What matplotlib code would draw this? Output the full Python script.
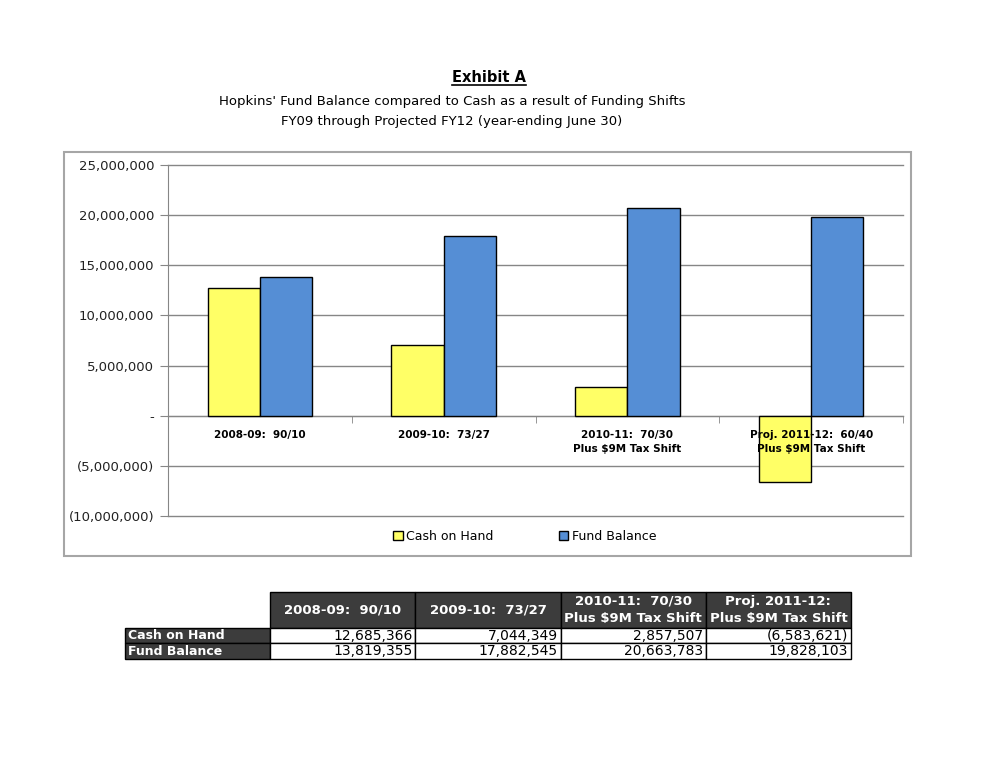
import matplotlib
matplotlib.use('Agg')
import matplotlib.pyplot as plt
from matplotlib.patches import Rectangle
from matplotlib.lines import Line2D
from matplotlib.ticker import FuncFormatter, MultipleLocator, FixedLocator
import matplotlib.transforms as mtransforms
import numpy as np

# ── Data ──────────────────────────────────────────────────────────────────────
categories = ['2008-09:  90/10', '2009-10:  73/27',
              '2010-11:  70/30\nPlus $9M Tax Shift',
              'Proj. 2011-12:  60/40\nPlus $9M Tax Shift']
table_cols = ['2008-09:  90/10', '2009-10:  73/27',
              '2010-11:  70/30\nPlus $9M Tax Shift',
              'Proj. 2011-12:\nPlus $9M Tax Shift']
series_names = ['Cash on Hand', 'Fund Balance']
cash_on_hand = [12685366, 7044349, 2857507, -6583621]
fund_balance = [13819355, 17882545, 20663783, 19828103]

YELLOW = '#FFFF66'
BLUE = '#558ED5'
GRID = '#868686'
DARK = '#3c3c3c'

plt.rcParams['font.family'] = ['DejaVu Sans']

def _acct(v, pos=None):
    if v == 0:
        return '-'
    if v < 0:
        return f'({-v:,.0f})'
    return f'{v:,.0f}'

fig = plt.figure(figsize=(9.94, 7.68), dpi=100)
W, H = 994, 768

# ── Chart frame ───────────────────────────────────────────────────────────────
fig.patches.append(Rectangle((64 / W, 1 - 556 / H), (911 - 64) / W, (556 - 152) / H,
                             transform=fig.transFigure, fill=False,
                             edgecolor='#a6a6a6', linewidth=1.5))

# ── Titles ────────────────────────────────────────────────────────────────────
t = fig.text(489 / W, 1 - 77 / H, 'Exhibit A', ha='center', va='center',
             fontsize=10.5, fontweight='bold')
fig.text(452 / W, 1 - 102 / H,
         "Hopkins' Fund Balance compared to Cash as a result of Funding Shifts",
         ha='center', va='center', fontsize=9.5)
fig.text(452 / W, 1 - 122 / H,
         'FY09 through Projected FY12 (year-ending June 30)',
         ha='center', va='center', fontsize=9.5)

# ── Bar chart ─────────────────────────────────────────────────────────────────
ax = fig.add_axes([168 / W, 1 - 516 / H, (903 - 168) / W, (516 - 165) / H])
x = np.arange(len(categories))
bw = 0.285
ax.bar(x - bw / 2, cash_on_hand, bw, color=YELLOW, edgecolor='black',
       linewidth=1, label=series_names[0], zorder=3)
ax.bar(x + bw / 2, fund_balance, bw, color=BLUE, edgecolor='black',
       linewidth=1, label=series_names[1], zorder=3)

ax.set_xlim(-0.5, len(categories) - 0.5)
ax.set_ylim(-10_000_000, 25_000_000)
ax.yaxis.set_major_locator(MultipleLocator(5_000_000))
ax.yaxis.set_major_formatter(FuncFormatter(_acct))
ax.grid(axis='y', color=GRID, linewidth=1, zorder=0)
ax.set_axisbelow(True)

for s in ['top', 'right']:
    ax.spines[s].set_visible(False)
ax.spines['left'].set_color(GRID)
ax.spines['bottom'].set_position(('data', 0))
ax.spines['bottom'].set_color(GRID)

ax.set_xticks(x)
ax.set_xticklabels([])
ax.xaxis.set_minor_locator(FixedLocator(np.arange(-0.5, len(categories), 1.0)))
ax.tick_params(axis='x', which='major', length=0)
ax.tick_params(axis='x', which='minor', length=5, color=GRID, direction='out')
ax.tick_params(axis='y', length=6, color=GRID, labelsize=9.5, pad=4, labelcolor='#222222')

# category labels drawn above the bars (text sits on top of the negative bar)
trans = mtransforms.blended_transform_factory(ax.transData, ax.transAxes)
zero_y = ax.transLimits.transform((0, 0))[1]
for xi, lab in zip(x, categories):
    ax.text(xi, zero_y - 0.042, lab, transform=trans, ha='center', va='top',
            fontsize=7.5, fontweight='bold', linespacing=1.5, zorder=6,
            clip_on=False)

for gl in ax.get_ygridlines():
    gl.set_clip_on(False)

leg = ax.legend(loc='center', bbox_to_anchor=(0.4855, -0.058), ncol=2, frameon=False,
                fontsize=9, handlelength=0.75, handleheight=0.75, handletextpad=0.3,
                columnspacing=5.2)
for h in leg.legend_handles:
    h.set_linewidth(1)

# ── Data table ────────────────────────────────────────────────────────────────
tax = fig.add_axes([125 / W, 1 - 659 / H, 726 / W, 67 / H])
tax.axis('off')
cell_text = [[series_names[0]] + [_acct(v) for v in cash_on_hand],
             [series_names[1]] + [_acct(v) for v in fund_balance]]
tbl = tax.table(cellText=cell_text, colLabels=[''] + table_cols,
                cellLoc='right', colLoc='center', bbox=[0, 0, 1, 1])
tbl.auto_set_font_size(False)
for (r, c), cell in tbl.get_celld().items():
    cell.set_edgecolor('black')
    cell.set_linewidth(1)
    cell.set_width(0.2)
    txt = cell.get_text()
    if r == 0:
        cell.set_height(0.537)
        if c == 0:
            cell.set_visible(False)
            continue
        cell.set_facecolor(DARK)
        txt.set_color('white')
        txt.set_fontweight('bold')
        txt.set_fontsize(9.5)
        txt.set_linespacing(1.4)
    else:
        cell.set_height(0.2315)
        cell.PAD = 0.02
        txt.set_fontsize(10)
        if c == 0:
            cell.set_facecolor(DARK)
            txt.set_color('white')
            txt.set_fontweight('bold')
            txt.set_fontsize(9)
            txt.set_ha('left')
            cell._loc = 'left'

# ── Underline for "Exhibit A" ─────────────────────────────────────────────────
fig.canvas.draw()
bb = t.get_window_extent().transformed(fig.transFigure.inverted())
fig.add_artist(Line2D([bb.x0, bb.x1], [bb.y0 - 0.001, bb.y0 - 0.001],
                      transform=fig.transFigure, color='black', linewidth=1.2))

fig.savefig('out.png', dpi=100)
